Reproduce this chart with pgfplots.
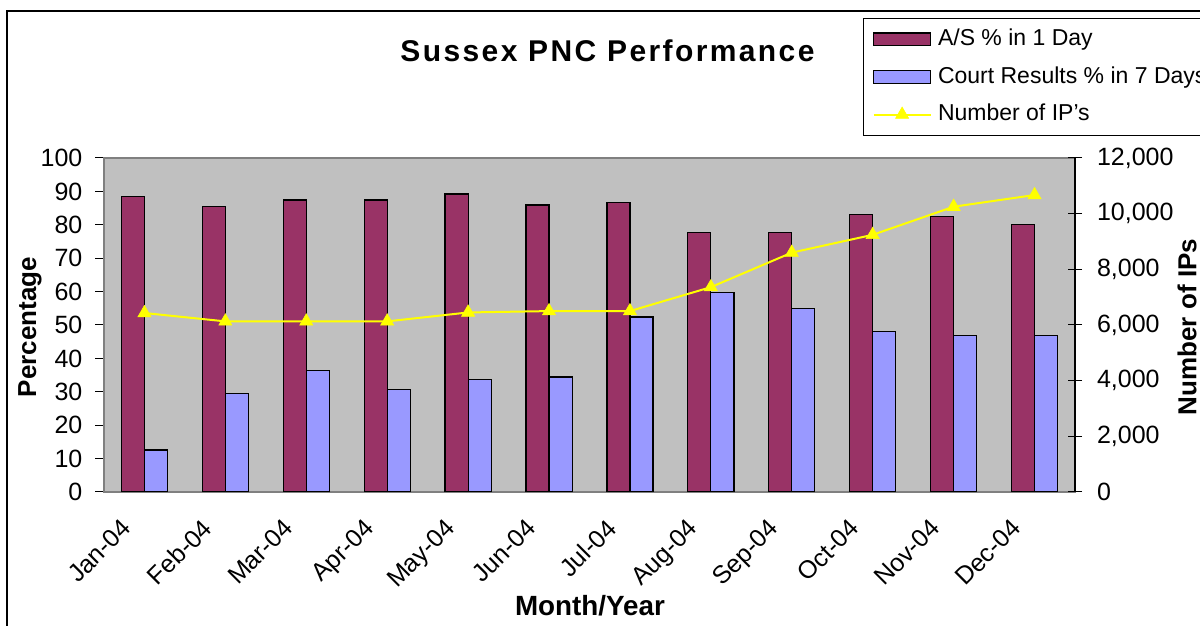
\documentclass[border=0pt]{standalone}
\usepackage{fontspec}
\setmainfont{Liberation Sans}
\usepackage{pgfplots}
\pgfplotsset{compat=1.18}
\definecolor{maroonbar}{HTML}{993366}
\definecolor{bluebar}{HTML}{9999FF}
\definecolor{plotgray}{HTML}{C0C0C0}
\definecolor{ipyellow}{HTML}{FFFF00}
\definecolor{framegray}{HTML}{808080}
\pgfplotsset{
  barlegend/.style={legend image code/.code={\draw[##1] (0pt,-3.2pt) rectangle (28.5pt,3.2pt);}},
  linelegend/.style={legend image code/.code={\draw[mark repeat=2, mark phase=2, ##1] plot coordinates {(0pt,0pt) (14.25pt,0pt) (28.5pt,0pt)};}},
}

\begin{document}
\begin{tikzpicture}
\useasboundingbox (0,0) rectangle (600pt,313pt);
\draw[line width=1pt] (3.5pt,-2pt) -- (3.5pt,307.25pt) -- (610pt,307.25pt);
\node[anchor=base, font=\fontsize{15}{18}\selectfont\bfseries\addfontfeature{LetterSpace=8}] at (303.75pt,282.2pt) {Sussex PNC Performance};

\begin{axis}[
  at={(52pt,67pt)}, anchor=south west,
  scale only axis, width=485.5pt, height=167pt,
  xmin=-0.5, xmax=11.5, ymin=0, ymax=100,
  axis background/.style={fill=plotgray},
  axis line style={framegray, line width=0.6pt},
  ytick={0,10,...,100},
  ytick pos=left,
  xtick={0,...,11},
  xtick pos=bottom,
  xticklabels={Jan-04,Feb-04,Mar-04,Apr-04,May-04,Jun-04,Jul-04,Aug-04,Sep-04,Oct-04,Nov-04,Dec-04},
  major x tick style={draw=none},
  extra x ticks={-0.5,0.5,...,11.5},
  extra x tick labels={},
  extra x tick style={major tick length=8.5pt, tick align=center, tick style={black, line width=0.5pt}},
  y tick style={black, line width=0.5pt},
  tick align=outside,
  major tick length=4.3pt,
  /pgf/number format/assume math mode=true,
  yticklabel style={font=\fontsize{12.5}{14}\selectfont, xshift=-3pt},
  xticklabel style={font=\fontsize{12.5}{14}\selectfont, xshift=-12.25pt, yshift=-3.5pt, rotate=45, anchor=north east},
  xlabel={Month/Year},
  xlabel style={at={(axis description cs:0.5005,-0.341)}, anchor=center, font=\fontsize{13.9}{16}\selectfont\bfseries},
  ylabel={Percentage},
  ylabel style={at={(axis description cs:-0.0762,0.494)}, anchor=center, font=\fontsize{13}{15}\selectfont\bfseries},
]
\addplot[ybar, bar width=0.285, bar shift=-0.1425, fill=maroonbar, draw=black, line width=0.6pt] coordinates {
 (0,88.5) (1,85.5) (2,87.4) (3,87.4) (4,89.2) (5,85.9) (6,86.7) (7,77.8) (8,77.8) (9,83.2) (10,82.6) (11,80.1)};
\addplot[ybar, bar width=0.285, bar shift=0.1425, fill=bluebar, draw=black, line width=0.6pt] coordinates {
 (0,12.6) (1,29.5) (2,36.3) (3,30.7) (4,33.8) (5,34.4) (6,52.4) (7,59.7) (8,54.9) (9,48.0) (10,46.9) (11,46.9)};
\end{axis}

\begin{axis}[
  at={(52pt,67pt)}, anchor=south west,
  scale only axis, width=485.5pt, height=167pt,
  xmin=-0.5, xmax=11.5, ymin=0, ymax=12000,
  axis x line=none,
  axis y line*=right,
  axis line style={black, line width=0.6pt},
  ytick={0,2000,...,12000},
  scaled y ticks=false,
  y tick style={black, line width=0.5pt},
  tick align=center,
  major tick length=7pt,
  /pgf/number format/assume math mode=true,
  /pgf/number format/fixed,
  /pgf/number format/1000 sep={,},
  yticklabel style={font=\fontsize{12.5}{14}\selectfont, xshift=4pt},
  ylabel={Number of IPs},
  ylabel style={at={(axis description cs:1.1154,0.494)}, anchor=center, font=\fontsize{13}{15}\selectfont\bfseries},
  legend style={at={(axis description cs:0.7817,1.419)}, anchor=north west,
    draw=black, fill=white, line width=0.6pt, inner xsep=4.5pt, inner ysep=5pt,
    nodes={inner sep=0pt, text height=8.4pt, text depth=2.4pt},
    row sep=8pt, column sep=3.2pt,
    font=\fontsize{11.5}{13}\selectfont},
  legend cell align=left,
]
\addlegendimage{barlegend, fill=maroonbar, draw=black, line width=0.6pt}
\addlegendentry{A/S \% in 1 Day}
\addlegendimage{barlegend, fill=bluebar, draw=black, line width=0.6pt}
\addlegendentry{Court Results \% in 7 Days}
\addplot[ipyellow, line width=1pt, mark=triangle*, mark size=3.8pt, mark options={fill=ipyellow, draw=ipyellow, line width=0.3pt}, linelegend] coordinates {
 (0,6430) (1,6130) (2,6130) (3,6130) (4,6450) (5,6500) (6,6500) (7,7360) (8,8600) (9,9240) (10,10250) (11,10670)};
\addlegendentry{Number of IP's}
\end{axis}
\end{tikzpicture}
\end{document}
